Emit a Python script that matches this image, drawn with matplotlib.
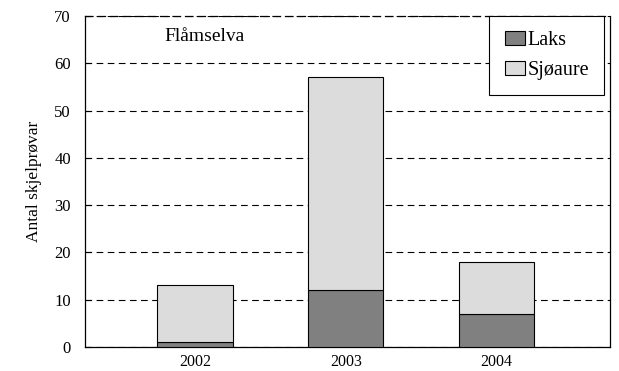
import matplotlib
matplotlib.use('Agg')
import matplotlib.pyplot as plt

years = ['2002', '2003', '2004']
laks = [1, 12, 7]
sjoaure = [12, 45, 11]

plt.rcParams['font.family'] = ['Liberation Serif', 'DejaVu Serif']
plt.rcParams['font.size'] = 12

fig = plt.figure(figsize=(6.19, 3.71), dpi=100)
ax = fig.add_axes([0.137, 0.065, 0.848, 0.892])

x = list(range(len(years)))
ax.bar(x, laks, width=0.5, color='#808080', edgecolor='black', linewidth=0.8, label='Laks', zorder=3)
ax.bar(x, sjoaure, width=0.5, bottom=laks, color='#dcdcdc', edgecolor='black', linewidth=0.8, label='Sjøaure', zorder=3)

ax.set_xlim(-0.73, 2.75)
ax.set_ylim(0, 70)
ax.set_yticks(range(0, 71, 10))
ax.set_xticks(x)
ax.set_xticklabels(years, fontsize=11.5)
ax.tick_params(axis='x', length=0, pad=5)
ax.tick_params(axis='y', direction='in', length=4, labelsize=12, pad=10)
ax.yaxis.grid(True, linestyle=(0, (6, 4)), color='black', linewidth=0.8)
ax.set_axisbelow(True)
for s in ax.spines.values():
    s.set_linewidth(0.9)
ax.spines['top'].set_linestyle((0, (6, 4)))

ax.set_ylabel('Antal skjelprøvar', fontsize=12.5, labelpad=9)
ax.text(0.152, 0.965, 'Flåmselva', transform=ax.transAxes, fontsize=14, va='top')

leg = ax.legend(loc='upper right', bbox_to_anchor=(0.99, 1.0), fontsize=14.5, frameon=True,
                fancybox=False, edgecolor='black', framealpha=1, handlelength=1.0,
                handleheight=0.7, handletextpad=0.15, borderpad=0.75, labelspacing=0.55,
                borderaxespad=0.0)
leg.get_frame().set_linewidth(0.8)

fig.savefig('out.png', dpi=100)
